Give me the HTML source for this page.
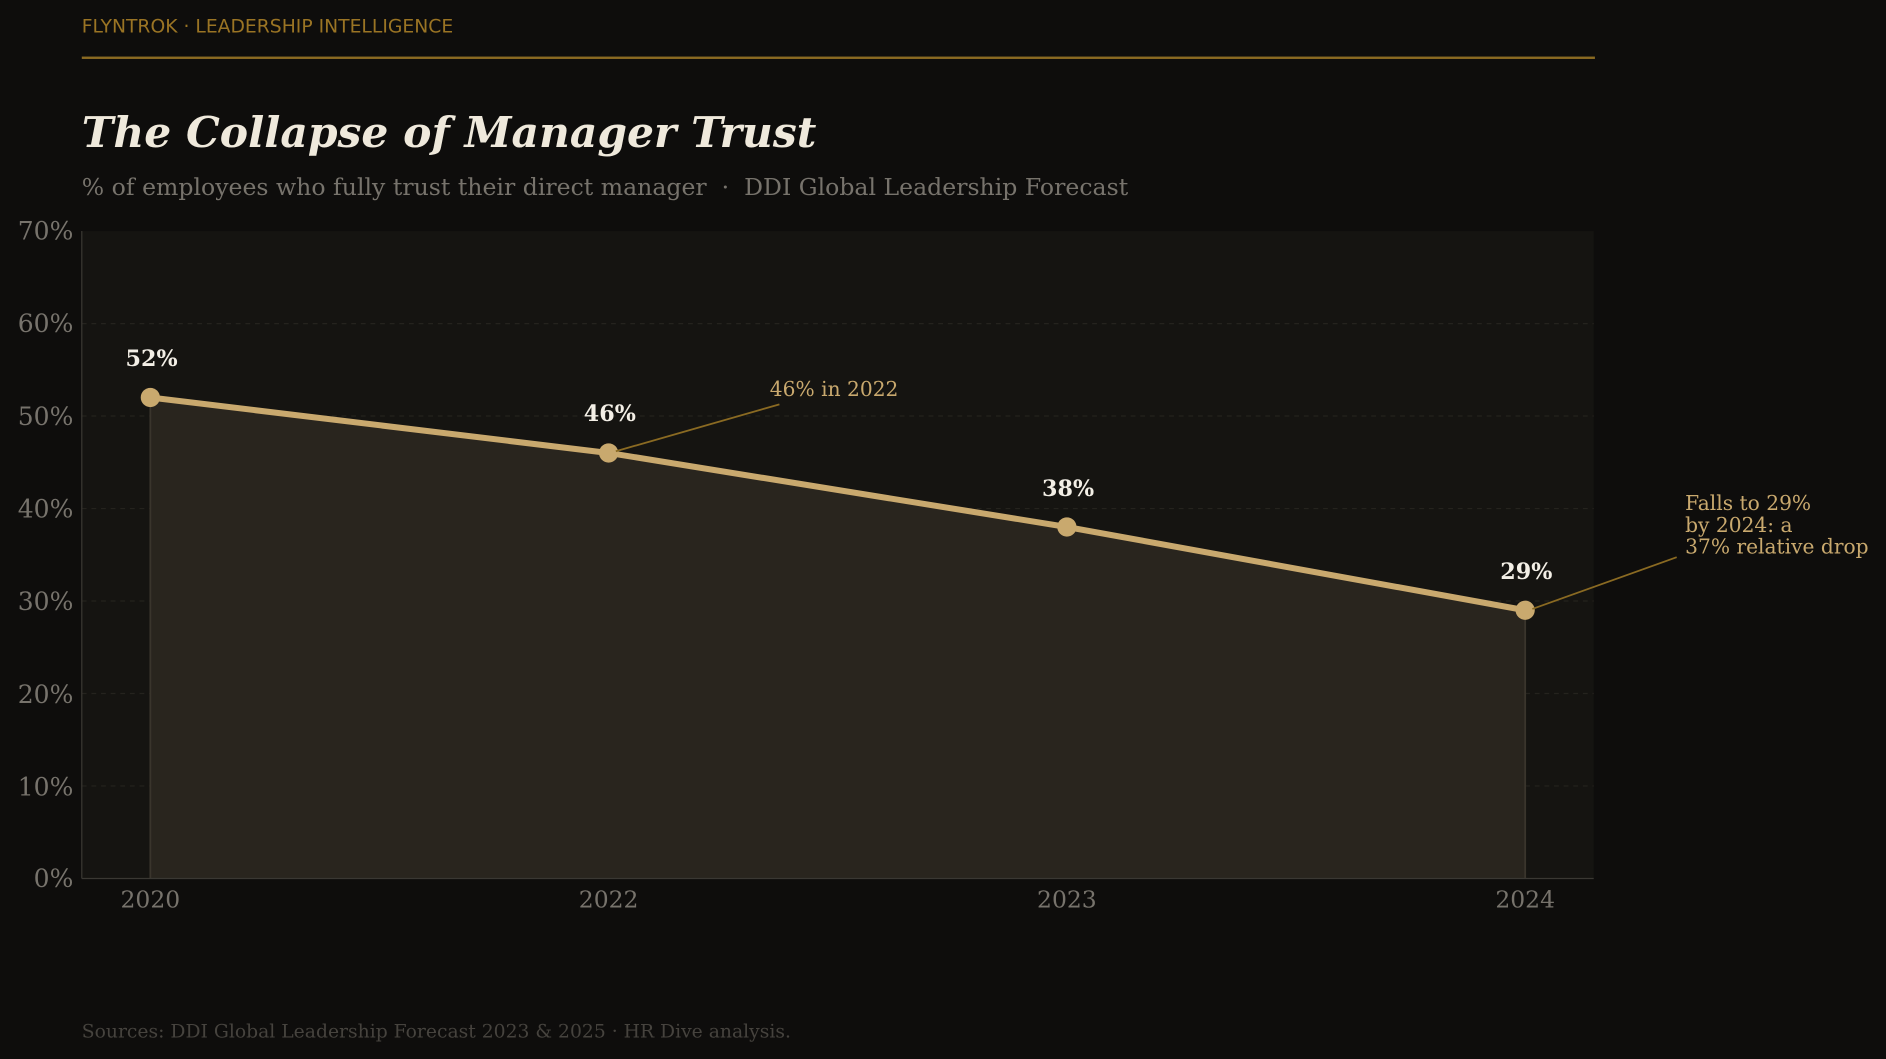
<!DOCTYPE html>
<html><head><meta charset="utf-8"><style>
html,body{margin:0;padding:0;background:#0e0d0c;width:1886px;height:1059px;overflow:hidden}
svg{display:block}
</style></head><body>
<svg width="1886" height="1059" viewBox="0 0 1568 880" preserveAspectRatio="none" xmlns="http://www.w3.org/2000/svg">
<rect width="1568" height="880" fill="#0e0d0c"/>
<text x="68" y="27" font-family="DejaVu Sans, sans-serif" font-size="15.6" fill="#9a7424">FLYNTROK · LEADERSHIP INTELLIGENCE</text>
<rect x="68" y="47" width="1258" height="2" fill="#8a6a22"/>
<text x="68" y="122" font-family="DejaVu Serif, serif" font-size="35.3" font-weight="bold" font-style="italic" fill="#efe9dc">The Collapse of Manager Trust</text>
<text x="68" y="162" font-family="DejaVu Serif, serif" font-size="19.6" fill="#77736c" xml:space="preserve">% of employees who fully trust their direct manager  ·  DDI Global Leadership Forecast</text>
<rect x="68" y="192" width="1257" height="538" fill="#151411"/>
<g stroke="#25231e" stroke-width="1" stroke-dasharray="4,4">
<line x1="68" x2="1325" y1="268.9" y2="268.9"/><line x1="68" x2="1325" y1="345.7" y2="345.7"/>
<line x1="68" x2="1325" y1="422.6" y2="422.6"/><line x1="68" x2="1325" y1="499.4" y2="499.4"/>
<line x1="68" x2="1325" y1="576.3" y2="576.3"/><line x1="68" x2="1325" y1="653.1" y2="653.1"/>
</g>
<polygon points="125,730 125,330.3 506,376.4 887,437.9 1268,507.1 1268,730" fill="#29251e"/>
<line x1="125" y1="330" x2="125" y2="730" stroke="#3a352c" stroke-width="1.5"/>
<line x1="1268" y1="507" x2="1268" y2="730" stroke="#3a352c" stroke-width="1.5"/>
<line x1="68" y1="192" x2="68" y2="730" stroke="#3a3833" stroke-width="1"/>
<line x1="68" y1="730" x2="1325" y2="730" stroke="#3a3833" stroke-width="1"/>
<polyline points="125,330.3 506,376.4 887,437.9 1268,507.1" fill="none" stroke="#c9a96e" stroke-width="5" stroke-linejoin="round"/>
<g fill="#c9a96e"><circle cx="125" cy="330.3" r="8"/><circle cx="506" cy="376.4" r="8"/><circle cx="887" cy="437.9" r="8"/><circle cx="1268" cy="507.1" r="8"/></g>
<g font-family="DejaVu Serif, serif" font-size="18.5" font-weight="bold" fill="#f3efe6" text-anchor="middle">
<text x="126" y="304">52%</text><text x="507" y="350">46%</text><text x="888" y="412">38%</text><text x="1269" y="481">29%</text></g>
<line x1="512" y1="375" x2="648" y2="336" stroke="#8a6a22" stroke-width="1.5"/>
<line x1="1274" y1="506" x2="1394" y2="463" stroke="#8a6a22" stroke-width="1.5"/>
<g font-family="DejaVu Serif, serif" font-size="16.8" fill="#c9a96e">
<text x="640" y="329">46% in 2022</text>
<text x="1401" y="424">Falls to 29%</text><text x="1401" y="442">by 2024: a</text><text x="1401" y="460">37% relative drop</text></g>
<g font-family="DejaVu Serif, serif" font-size="20.8" fill="#77736c" text-anchor="end">
<text x="61" y="199">70%</text><text x="61" y="276">60%</text><text x="61" y="353">50%</text><text x="61" y="430">40%</text>
<text x="61" y="507">30%</text><text x="61" y="584">20%</text><text x="61" y="661">10%</text><text x="61" y="737">0%</text></g>
<g font-family="DejaVu Serif, serif" font-size="19.5" fill="#77736c" text-anchor="middle">
<text x="125" y="754">2020</text><text x="506" y="754">2022</text><text x="887" y="754">2023</text><text x="1268" y="754">2024</text></g>
<text x="68" y="862" font-family="DejaVu Serif, serif" font-size="15.6" fill="#46433e">Sources: DDI Global Leadership Forecast 2023 &amp; 2025 · HR Dive analysis.</text>
</svg>
</body></html>
